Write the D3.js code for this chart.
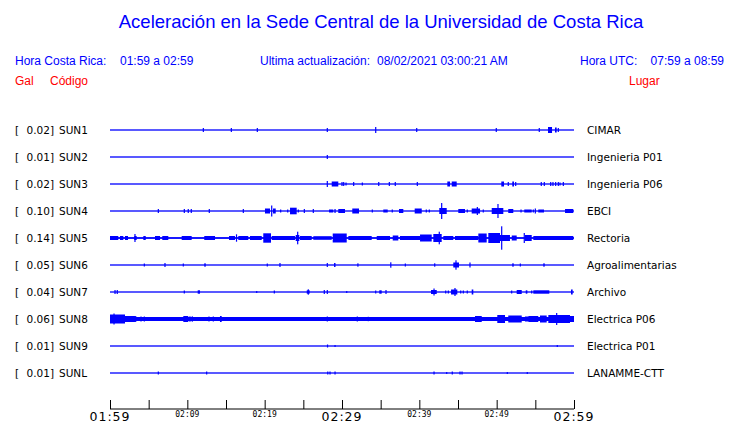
<!DOCTYPE html>
<html>
<head>
<meta charset="utf-8">
<script src="https://cdn.jsdelivr.net/npm/d3@7"></script>
<style>
  html, body { margin: 0; padding: 0; background: #fff; }
  svg { display: block; }
</style>
</head>
<body>
<svg id="chart" width="740" height="423"></svg>
<script>
// ---------------- DATA ----------------
const title = "Aceleración en la Sede Central de la Universidad de Costa Rica";
const headerLocal = ["Hora Costa Rica:", "01:59 a 02:59"];
const headerUpdate = ["Ultima actualización:", "08/02/2021 03:00:21 AM"];
const headerUTC = ["Hora UTC:", "07:59 a 08:59"];
const columnHeads = ["Gal", "Código", "Lugar"];

const codes  = ["SUN1","SUN2","SUN3","SUN4","SUN5","SUN6","SUN7","SUN8","SUN9","SUNL"];
const scales = ["0.02","0.01","0.02","0.10","0.14","0.05","0.04","0.06","0.01","0.01"];
const places = ["CIMAR","Ingenieria P01","Ingenieria P06","EBCI","Rectoria",
                "Agroalimentarias","Archivo","Electrica P06","Electrica P01","LANAMME-CTT"];

// background noise level of each trace (relative amplitude units)
const noise = [0.65,0.65,0.65,0.65,0.9,0.65,0.65,2,0.65,0.65];

// minutes after 01:59 (0..60)
const tickMinutes  = [0,5,10,15,20,25,30,35,40,45,50,55,60];
const tickLabels   = ["01:59","","02:09","","02:19","","02:29","","02:39","","02:49","","02:59"];
const majorLabels  = ["01:59","02:29","02:59"];

// events: [start minute, end minute, half amplitude]
const evSUN1 = [[12.07,12.07,2],[15.69,15.69,2],[19.05,19.05,2],[28.10,28.10,2],[34.36,34.36,3],
  [39.66,39.66,2],[49.95,49.95,2],[55.51,55.51,2],[56.64,57.16,3],[57.54,57.76,2.5],[57.97,57.97,2]];
const evSUN2 = [[28.10,28.10,2]];
const evSUN3 = [[28.10,28.10,3],[28.67,29.52,2.5],[30.0,30.0,2],[30.22,30.22,2],[30.52,30.52,1.5],
  [31.51,31.51,2],[32.63,32.63,1.5],[34.75,34.75,2],[36.12,36.12,2],[36.89,36.89,2],[39.74,39.74,2],
  [43.62,43.97,2.5],[44.19,44.83,2.5],[50.60,50.95,2.5],[51.50,51.50,2],[52.02,52.24,2.5],[52.46,52.46,2],
  [55.77,55.77,2],[56.16,56.16,2],[56.99,56.99,2],[57.28,57.28,2],[57.63,57.63,2],[57.97,57.97,2],
  [58.19,58.19,1.5],[58.62,58.62,2]];
const evSUN4 = [[6.25,6.25,2],[9.61,9.61,2],[10.12,10.12,2],[10.51,10.51,2],[12.84,12.84,2],[17.24,17.24,2],
  [20.04,20.69,2.5],[20.91,20.91,5.5],[21.08,21.43,2.5],[22.07,22.07,1.5],[22.98,22.98,1.5],[23.28,24.14,3.3],
  [24.35,24.35,1.5],[25.13,25.13,2],[26.29,26.29,2],[28.32,28.87,1.5],[29.10,29.10,2],[29.52,30.39,2],
  [31.33,32.20,2.5],[33.92,33.92,1.5],[35.34,35.91,1.5],[36.50,36.50,1.5],[37.37,37.93,2],[39.40,40.31,2.5],
  [40.90,40.90,1.5],[41.29,41.29,1.5],[42.58,43.54,3],[42.89,42.89,8],[45.04,45.91,2],[46.20,46.20,1.5],
  [46.77,47.85,2.5],[47.50,47.50,4],[48.27,48.27,1.5],[49.36,50.86,3],[50.17,50.17,7],[51.50,52.15,2],
  [53.15,53.15,1.5],[53.57,54.53,1.5],[54.74,54.74,1.5],[55.00,55.00,2.5],[55.38,56.12,1.5],[58.84,59.91,2]];
const evSUN5 = [[0,1.07,2],[1.29,1.72,2],[1.94,2.33,2],[3.14,3.45,2],[3.23,3.23,4],[4.31,4.62,2],
  [5.82,6.47,2],[6.76,7.54,2],[9.27,10.56,2],[12.19,13.58,2],[15.39,16.16,2],[16.36,16.36,3.7],
  [16.59,17.88,2],[18.10,19.62,2],[19.82,20.82,4.7],[20.91,23.92,2],[24.01,24.48,3],[24.27,24.27,6.3],
  [24.57,26.08,2],[26.29,28.67,1.8],[28.80,30.61,4.5],[30.82,33.84,2],[34.49,36.21,2],[36.56,37.28,2.5],
  [37.50,40.09,2],[40.09,41.60,3.5],[41.81,42.89,4],[42.58,42.58,6.3],[43.10,44.39,2],[44.61,47.63,2],
  [47.63,48.71,4.5],[48.92,50.43,5],[50.65,50.65,11.7],[50.43,51.72,3],[51.95,52.59,2.5],[53.57,53.57,5],
  [53.66,54.53,3],[54.74,59.91,2]];
const evSUN6 = [[4.44,4.44,1.5],[7.11,7.11,2],[9.48,9.48,1.5],[12.19,12.38,1.7],[20.34,20.34,1.5],
  [21.98,21.98,2],[28.10,28.10,2],[28.97,29.16,2],[31.98,32.11,1.7],[36.31,36.31,2.7],[38.19,38.19,1.5],
  [41.99,41.99,1.7],[44.39,45.13,2.5],[44.74,44.74,4.7],[46.55,46.55,2.5],[52.02,52.20,1.7],
  [53.06,53.06,1.5],[56.03,56.21,1.7]];
const evSUN7 = [[0.65,0.65,2],[0.94,0.94,2],[9.61,9.61,1.5],[11.34,11.64,1.7],[18.97,18.97,1],
  [21.25,21.25,1.5],[25.44,25.82,1.7],[25.64,25.64,2.7],[27.71,27.71,2],[28.10,28.10,2],[30.61,30.61,1],
  [34.36,34.36,1.5],[34.82,35.13,1.7],[35.69,35.69,2],[41.51,42.25,2],[41.90,41.90,3.5],[43.41,43.41,1.5],
  [43.75,43.75,1.5],[44.10,44.91,2.5],[44.61,44.61,4],[45.35,45.35,1.5],[45.69,45.69,1.5],[46.20,46.20,1.5],
  [46.77,46.98,2.5],[51.94,51.94,1.5],[52.59,53.24,2],[53.76,53.97,1.7],[54.53,54.53,1.5],[54.74,56.81,1.7],
  [59.61,59.83,2.5]];
const evSUN8 = [[0,1.94,4.5],[0.52,0.52,5.5],[1.94,3.23,3],[3.32,3.32,3],[4.01,4.01,2.5],[4.44,4.44,2.5],
  [9.48,10.12,3],[10.34,10.34,2.7],[10.64,10.64,2.7],[12.80,12.80,2.5],[13.36,13.36,2.5],[14.22,14.44,3],
  [28.10,28.10,2.5],[31.98,31.98,2.5],[33.40,33.40,2.2],[47.20,48.07,3],[50.08,51.08,4],[51.50,53.24,3.5],
  [53.66,54.09,2.5],[54.09,55.38,3],[55.60,56.47,3.5],[56.68,59.48,4],[57.76,57.76,6],[59.48,60,3]];
const evSUN9 = [[28.13,28.13,1.5],[29.10,29.10,1],[57.84,57.84,1]];
const evSUNL = [[6.25,6.25,1.5],[12.50,12.50,1.5],[28.16,28.16,1.5],[28.45,28.45,1.5],[29.10,29.10,1.5],
  [41.90,41.90,1.5],[43.54,43.54,1],[44.26,44.26,1.5],[45.26,45.26,1.5],[45.52,45.52,1.5],
  [51.38,51.38,1],[53.96,53.96,1]];
const events = [evSUN1,evSUN2,evSUN3,evSUN4,evSUN5,evSUN6,evSUN7,evSUN8,evSUN9,evSUNL];

// ---------------- DRAW ----------------
const svg = d3.select("#chart");
const blue = "#0000ff", red = "#ff0000";
const sans = "'Liberation Sans', Arial, sans-serif";
const dv = "'DejaVu Sans', sans-serif";
const mono = "'DejaVu Sans Mono', monospace";

const x = d3.scaleLinear().domain([0, 60]).range([110, 574]);
const y = d3.scaleBand().domain(codes).range([116.5, 386.5]);
const amp = d3.scaleLinear().domain([0, 12]).range([0, 12]);

svg.append("text").attr("x", 381).attr("y", 28).attr("text-anchor", "middle")
  .attr("font-family", sans).attr("font-size", 18.5).attr("fill", blue).text(title);

const hdr = svg.append("g").attr("font-family", sans).attr("font-size", 12).attr("fill", blue);
hdr.append("text").attr("x", 15).attr("y", 65).text(headerLocal[0]);
hdr.append("text").attr("x", 120).attr("y", 65).text(headerLocal[1]);
hdr.append("text").attr("x", 260).attr("y", 65).text(headerUpdate[0]);
hdr.append("text").attr("x", 377).attr("y", 65).text(headerUpdate[1]);
hdr.append("text").attr("x", 580).attr("y", 65).text(headerUTC[0]);
hdr.append("text").attr("x", 724).attr("y", 65).attr("text-anchor","end").text(headerUTC[1]);

const ch = svg.append("g").attr("font-family", sans).attr("font-size", 12).attr("fill", red);
ch.append("text").attr("x", 15).attr("y", 85).text(columnHeads[0]);
ch.append("text").attr("x", 50).attr("y", 85).text(columnHeads[1]);
ch.append("text").attr("x", 629).attr("y", 85).text(columnHeads[2]);

const rows = svg.selectAll("g.row").data(codes).join("g").attr("class", "row")
  .attr("transform", d => `translate(0,${y(d) + y.bandwidth() / 2})`);

rows.append("text").attr("x", 15).attr("y", 4).attr("font-family", dv).attr("font-size", 10.5)
  .attr("fill", "#000").text("[");
rows.append("text").attr("x", 54).attr("y", 4).attr("text-anchor", "end").attr("font-family", dv)
  .attr("font-size", 10.5).attr("fill", "#000").text((d, i) => scales[i] + "]");
rows.append("text").attr("x", 59).attr("y", 4).attr("font-family", dv).attr("font-size", 10.5)
  .attr("fill", "#000").text(d => d);
rows.append("text").attr("x", 587).attr("y", 4).attr("font-family", dv).attr("font-size", 10.5)
  .attr("fill", "#000").text((d, i) => places[i]);

rows.append("rect").attr("x", x(0)).attr("width", x(60) - x(0))
  .attr("y", (d, i) => -amp(noise[i])).attr("height", (d, i) => 2 * amp(noise[i]))
  .attr("fill", blue);

rows.each(function (d, i) {
  d3.select(this).selectAll("rect.ev").data(events[i]).join("rect").attr("class", "ev")
    .attr("x", e => e[1] > e[0] ? x(e[0]) : x(e[0]) - 0.6)
    .attr("width", e => e[1] > e[0] ? Math.max(1.2, x(e[1]) - x(e[0])) : 1.2)
    .attr("y", e => -amp(e[2]))
    .attr("height", e => 2 * amp(e[2]))
    .attr("fill", blue);
});

// time axis
const axis = d3.axisTop(x).tickValues(tickMinutes).tickSize(9).tickFormat("");
const ag = svg.append("g").attr("transform", "translate(0,409)").call(axis);
ag.select(".domain").attr("d", `M${x(0)},0H${x(60)}`).attr("stroke", "#000");
ag.selectAll(".tick line").attr("stroke", "#000");

const isMajor = m => majorLabels.includes(tickLabels[tickMinutes.indexOf(m)]);
svg.append("g").selectAll("text").data(tickMinutes.filter((m, i) => tickLabels[i] !== "")).join("text")
  .attr("x", m => x(m)).attr("text-anchor", "middle")
  .attr("y", m => isMajor(m) ? 421 : 417)
  .attr("font-family", m => isMajor(m) ? dv : mono)
  .attr("font-size", m => isMajor(m) ? 12.5 : 8)
  .attr("letter-spacing", m => isMajor(m) ? 1 : 0)
  .attr("fill", "#000")
  .text(m => tickLabels[tickMinutes.indexOf(m)]);
</script>
</body>
</html>
